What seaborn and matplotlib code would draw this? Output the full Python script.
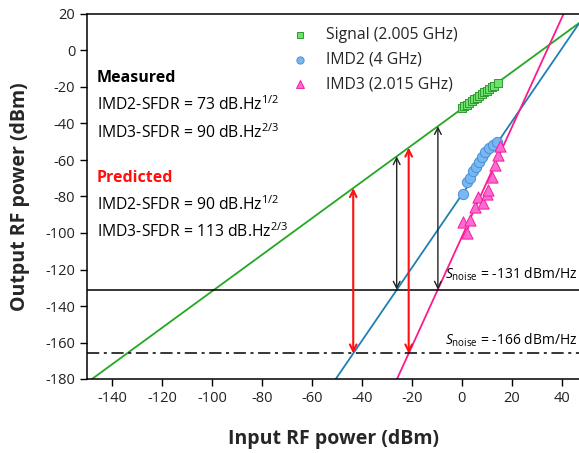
import matplotlib
matplotlib.use("Agg")
import matplotlib.pyplot as plt
import seaborn as sns
import numpy as np

# measured points
sig_x = [0, 1, 2, 3, 4, 5, 6, 7, 8, 9, 10, 11, 12, 13, 14.5]
sig_y = [-31.5, -30.6, -29.6, -28.7, -27.8, -26.8, -25.9, -24.9, -24.0, -23.0, -22.1, -21.2, -20.2, -19.3, -17.8]
imd2_x = [0.4, 2.0, 3.2, 4.4, 5.6, 6.8, 8.0, 9.2, 10.8, 12.4, 14.0]
imd2_y = [-78.9, -72.3, -69.6, -66.3, -63.6, -60.9, -58.1, -55.4, -53.2, -51.6, -50.0]
imd3_x = [0.4, 2.0, 3.2, 5.2, 6.4, 8.4, 10.0, 10.4, 12.0, 13.2, 14.4, 15.2]
imd3_y = [-94.2, -100.2, -93.1, -86.0, -80.5, -83.3, -78.4, -76.2, -69.1, -62.5, -57.0, -52.1]

# fitted lines (end points)
sig_fit_x = [-150, 47]
sig_fit_y = [-182, 15]
imd2_fit_x = [-52, 47]
imd2_fit_y = [-183.2, 14.8]
imd3_fit_x = [-27, 42]
imd3_fit_y = [-183.4, 23.6]

# noise floors
noise_meas = -131
noise_pred = -166

# SFDR arrows: x, top (signal line), bottom (noise floor)
meas_arrow_x = [-26.0, -9.5]
meas_arrow_top = [-58.0, -41.5]
pred_arrow_x = [-43.4, -21.2]
pred_arrow_top = [-75.4, -53.2]

sns.set_theme(style="white")
plt.rcParams["font.family"] = ["Open Sans", "DejaVu Sans"]
plt.rcParams["mathtext.fontset"] = "custom"
plt.rcParams["mathtext.rm"] = "Open Sans"
plt.rcParams["mathtext.it"] = "Open Sans:italic"
plt.rcParams["axes.unicode_minus"] = False

fig = plt.figure(figsize=(5.79, 4.53), dpi=100)
ax = fig.add_axes([87 / 579, 74 / 453, 492 / 579, 365 / 453])

green_line = "#22a822"
blue_line = "#1f80b4"
pink_line = "#ff1a8c"

sns.lineplot(x=sig_fit_x, y=sig_fit_y, color=green_line, lw=1.3, ax=ax)
sns.lineplot(x=imd2_fit_x, y=imd2_fit_y, color=blue_line, lw=1.3, ax=ax)
sns.lineplot(x=imd3_fit_x, y=imd3_fit_y, color=pink_line, lw=1.3, ax=ax)

ax.axhline(noise_meas, color="black", lw=1.1)
ax.axhline(noise_pred, color="black", lw=1.1, ls=(0, (8, 3, 2, 3)))

sns.scatterplot(x=sig_x, y=sig_y, marker="s", s=40, color="#6ee26e",
                edgecolor="#2f9a2f", linewidth=0.7, ax=ax, label="Signal (2.005 GHz)", zorder=3)
sns.scatterplot(x=imd2_x, y=imd2_y, marker="o", s=55, color="#78b8f2",
                edgecolor="#4a8fd6", linewidth=0.7, ax=ax, label="IMD2 (4 GHz)", zorder=3)
sns.scatterplot(x=imd3_x, y=imd3_y, marker="^", s=65, color="#ff6ad2",
                edgecolor="#ee1fa0", linewidth=0.7, ax=ax, label="IMD3 (2.015 GHz)", zorder=3)

for x, top in zip(meas_arrow_x, meas_arrow_top):
    ax.annotate("", xy=(x, top), xytext=(x, noise_meas),
                arrowprops=dict(arrowstyle="<->", color="#222222", lw=1.0,
                                mutation_scale=12, shrinkA=0, shrinkB=0))
for x, top in zip(pred_arrow_x, pred_arrow_top):
    ax.annotate("", xy=(x, top), xytext=(x, noise_pred),
                arrowprops=dict(arrowstyle="<->", color="#ff1010", lw=1.5,
                                mutation_scale=12, shrinkA=0, shrinkB=0))

fs = 11.3
ax.text(-146, -15, "Measured", fontsize=11.5, fontweight="bold", color="black", va="center")
ax.text(-146, -29.7, "IMD2-SFDR = 73 dB.Hz$^{1/2}$", fontsize=fs, color="black", va="center")
ax.text(-146, -45, "IMD3-SFDR = 90 dB.Hz$^{2/3}$", fontsize=fs, color="black", va="center")
ax.text(-146, -69.6, "Predicted", fontsize=11.5, fontweight="bold", color="#ff1010", va="center")
ax.text(-146, -84.4, "IMD2-SFDR = 90 dB.Hz$^{1/2}$", fontsize=fs, color="black", va="center")
ax.text(-146, -99.1, "IMD3-SFDR = 113 dB.Hz$^{2/3}$", fontsize=fs, color="black", va="center")

ax.text(-6.5, -122.6, "$S_{\\mathrm{noise}}$ = -131 dBm/Hz", fontsize=10, color="black", va="center")
ax.text(-6.5, -158.7, "$S_{\\mathrm{noise}}$ = -166 dBm/Hz", fontsize=10, color="black", va="center")

ax.set_xlim(-150, 47)
ax.set_ylim(-180, 20)
ax.set_xticks(np.arange(-140, 41, 20))
ax.set_yticks(np.arange(-180, 21, 20))
ax.tick_params(axis="both", direction="out", length=5, width=1, labelsize=10.5,
               colors="black", labelcolor="#222222", bottom=True, left=True)
for side in ["left", "bottom", "top"]:
    ax.spines[side].set_color("black")
    ax.spines[side].set_linewidth(1.1)
ax.spines["right"].set_visible(False)

ax.set_xlabel("Input RF power (dBm)", fontsize=14, fontweight="bold", labelpad=17)
ax.set_ylabel("Output RF power (dBm)", fontsize=14, fontweight="bold", labelpad=11)

ax.legend(loc="upper left", bbox_to_anchor=(0.378, 0.994), frameon=False, fontsize=11.3,
          handlelength=2.0, handletextpad=0.7, labelspacing=0.55, borderaxespad=0.3,
          markerscale=0.7)

fig.savefig("out.png", dpi=100)
